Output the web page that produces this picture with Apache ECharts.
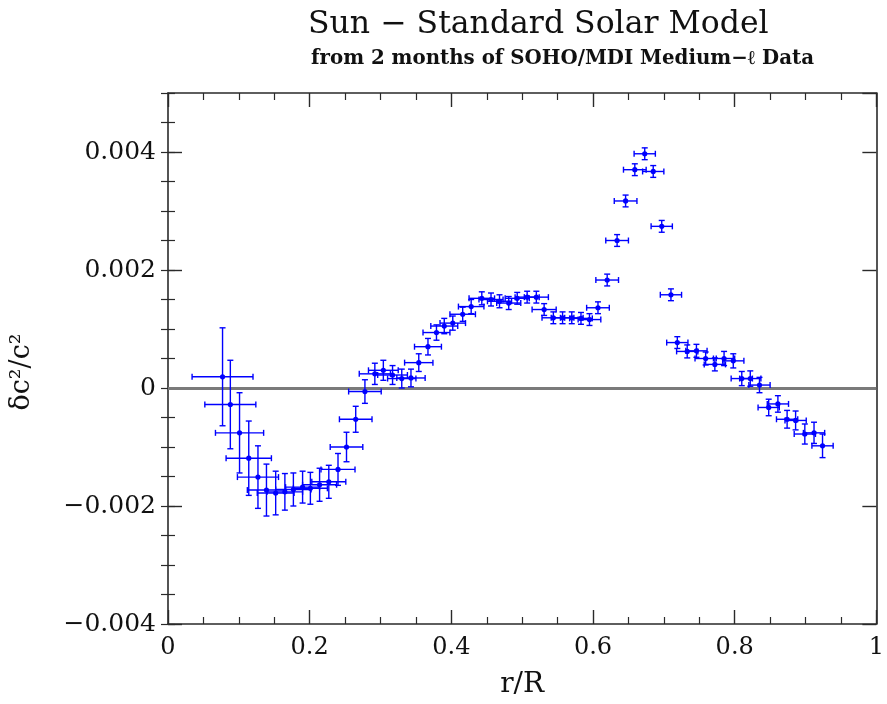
<!DOCTYPE html>
<html>
<head>
<meta charset="utf-8">
<script src="https://cdn.jsdelivr.net/npm/echarts@6/dist/echarts.min.js"></script>
<style>
  html, body { margin: 0; padding: 0; background: #fff; }
  #chart { width: 887px; height: 704px; }
</style>
</head>
<body>
<div id="chart"></div>
<script>
// r/R positions of the inversion points
const radius = [
  0.077, 0.088, 0.101, 0.114, 0.127, 0.139, 0.152, 0.165, 0.177, 0.190,
  0.201, 0.214, 0.227, 0.240, 0.252, 0.265, 0.278, 0.292, 0.304, 0.317,
  0.330, 0.343, 0.354, 0.367, 0.379, 0.390, 0.402, 0.416, 0.428, 0.443,
  0.456, 0.468, 0.481, 0.493, 0.507, 0.520, 0.531, 0.544, 0.557, 0.570,
  0.583, 0.595, 0.607, 0.620, 0.634, 0.646, 0.659, 0.673, 0.685, 0.697,
  0.710, 0.719, 0.733, 0.746, 0.759, 0.772, 0.785, 0.798, 0.810, 0.822,
  0.835, 0.848, 0.861, 0.874, 0.886, 0.899, 0.912, 0.924
];
// delta c^2 / c^2
const dc2 = [
  0.00019, -0.00028, -0.00076, -0.00119, -0.00151, -0.00173, -0.00178, -0.00176, -0.00172, -0.00168,
  -0.00170, -0.00164, -0.00159, -0.00138, -0.00100, -0.00053, -0.00006, 0.00024, 0.00030, 0.00022,
  0.00016, 0.00017, 0.00043, 0.00070, 0.00094, 0.00105, 0.00110, 0.00125, 0.00138, 0.00152,
  0.00150, 0.00147, 0.00144, 0.00152, 0.00154, 0.00154, 0.00133, 0.00119, 0.00119, 0.00119,
  0.00118, 0.00116, 0.00136, 0.00183, 0.00250, 0.00317, 0.00370, 0.00397, 0.00367, 0.00274,
  0.00158, 0.00077, 0.00062, 0.00063, 0.00050, 0.00040, 0.00050, 0.00046, 0.00016, 0.00016,
  0.00005, -0.00033, -0.00027, -0.00053, -0.00055, -0.00078, -0.00076, -0.00098
];
// horizontal error (resolution width)
const xErr = [
  0.043, 0.036, 0.034, 0.032, 0.029, 0.027, 0.026, 0.025, 0.025, 0.024,
  0.024, 0.024, 0.024, 0.024, 0.023, 0.023, 0.023, 0.022, 0.021, 0.021,
  0.020, 0.020, 0.020, 0.019, 0.019, 0.019, 0.018, 0.018, 0.018, 0.018,
  0.017, 0.017, 0.017, 0.017, 0.017, 0.017, 0.017, 0.016, 0.016, 0.016,
  0.016, 0.016, 0.016, 0.016, 0.016, 0.016, 0.016, 0.015, 0.015, 0.015,
  0.015, 0.015, 0.015, 0.015, 0.015, 0.015, 0.015, 0.015, 0.015, 0.015,
  0.015, 0.015, 0.015, 0.015, 0.015, 0.015, 0.015, 0.015
];
// vertical error
const yErr = [
  0.00083, 0.00075, 0.00068, 0.00063, 0.00053, 0.00044, 0.00037, 0.00031, 0.00028, 0.00027,
  0.00027, 0.00028, 0.00028, 0.00027, 0.00025, 0.00022, 0.00020, 0.00018, 0.00017, 0.00016,
  0.00016, 0.00015, 0.00015, 0.00014, 0.00013, 0.00013, 0.00012, 0.00012, 0.00012, 0.00011,
  0.00011, 0.00011, 0.00011, 0.00010, 0.00010, 0.00010, 0.00010, 0.00010, 0.00010, 0.00010,
  0.00010, 0.00010, 0.00010, 0.00010, 0.00010, 0.00010, 0.00010, 0.00010, 0.00010, 0.00010,
  0.00010, 0.00010, 0.00011, 0.00011, 0.00011, 0.00011, 0.00012, 0.00012, 0.00012, 0.00013,
  0.00013, 0.00014, 0.00014, 0.00015, 0.00016, 0.00017, 0.00018, 0.00020
];

const FONT = 'DejaVu Serif';
const AXIS_COLOR = '#2a2a2a';
const PT_COLOR = '#0000ff';

const points = radius.map((r, i) => [r, dc2[i], xErr[i], yErr[i]]);

function fmtY(v) {
  const n = Math.round(v * 1000) / 1000;
  if (n === 0) return '0';
  return (n < 0 ? '\u2212' : '') + Math.abs(n).toFixed(3);
}

function renderErrorBar(params, api) {
  const x = api.value(0), y = api.value(1), xe = api.value(2), ye = api.value(3);
  const c = api.coord([x, y]);
  const l = api.coord([x - xe, y]);
  const r = api.coord([x + xe, y]);
  const t = api.coord([x, y + ye]);
  const b = api.coord([x, y - ye]);
  const cap = 3;
  const st = { stroke: PT_COLOR, lineWidth: 1.4 };
  const line = (x1, y1, x2, y2) => ({ type: 'line', shape: { x1, y1, x2, y2 }, style: st });
  return {
    type: 'group',
    children: [
      line(l[0], c[1], r[0], c[1]),
      line(l[0], c[1] - cap, l[0], c[1] + cap),
      line(r[0], c[1] - cap, r[0], c[1] + cap),
      line(c[0], t[1], c[0], b[1]),
      line(c[0] - cap, t[1], c[0] + cap, t[1]),
      line(c[0] - cap, b[1], c[0] + cap, b[1]),
      { type: 'circle', shape: { cx: c[0], cy: c[1], r: 2.6 }, style: { fill: PT_COLOR } }
    ]
  };
}

const xBase = {
  type: 'value', min: 0, max: 1, interval: 0.2,
  axisLine: { show: true, onZero: false, lineStyle: { color: AXIS_COLOR, width: 1.6 } },
  axisTick: { show: true, inside: true, length: 14, lineStyle: { color: AXIS_COLOR, width: 1.4 } },
  minorTick: { show: true, splitNumber: 4, length: 7, lineStyle: { color: AXIS_COLOR, width: 1.2 } },
  splitLine: { show: false },
  minorSplitLine: { show: false }
};

function yMajor(pos, labels) {
  return {
    type: 'value', position: pos, min: -0.004, max: 0.005, interval: 0.002,
    axisLine: { show: true, onZero: false, lineStyle: { color: AXIS_COLOR, width: 1.6 } },
    axisTick: { show: true, inside: true, length: 14, lineStyle: { color: AXIS_COLOR, width: 1.4 } },
    axisLabel: labels ? {
      show: true, showMaxLabel: false, formatter: fmtY, margin: 12,
      fontFamily: FONT, fontSize: 25, color: '#111'
    } : { show: false },
    splitLine: { show: false }
  };
}

function yMinor(pos) {
  return {
    type: 'value', position: pos, min: -0.004, max: 0.005, interval: 0.0005,
    axisLine: { show: false },
    axisTick: { show: true, inside: true, length: 7, lineStyle: { color: AXIS_COLOR, width: 1.2 } },
    axisLabel: { show: false },
    splitLine: { show: false }
  };
}

const chart = echarts.init(document.getElementById('chart'), null, { renderer: 'canvas' });

chart.setOption({
  backgroundColor: '#fff',
  animation: false,
  graphic: [
    {
      type: 'text', left: 308, top: 9,
      style: { text: 'Sun \u2212 Standard Solar Model', font: '31.5px "DejaVu Serif"', fill: '#111' }
    },
    {
      type: 'text', left: 311, top: 49,
      style: { text: 'from 2 months of SOHO/MDI Medium\u2212\u2113 Data', font: 'bold 19.8px "DejaVu Serif"', fill: '#111' }
    },
    {
      // y-axis title, drawn rotated beside the tick labels
      type: 'text', x: 22, y: 372, rotation: Math.PI / 2,
      style: { text: '\u03b4c\u00b2/c\u00b2', font: '27px "DejaVu Serif"', fill: '#111',
        textAlign: 'center', textVerticalAlign: 'middle' }
    }
  ],
  grid: { left: 168, top: 93, width: 714, height: 540, containLabel: false },
  xAxis: [
    Object.assign({}, xBase, {
      position: 'bottom',
      name: 'r/R', nameLocation: 'middle', nameGap: 47,
      nameTextStyle: { fontFamily: FONT, fontSize: 28, color: '#111' },
      axisLabel: { show: true, margin: 12, fontFamily: FONT, fontSize: 24, color: '#111',
        formatter: v => String(Math.round(v * 10) / 10) }
    }),
    Object.assign({}, xBase, { position: 'top', axisLabel: { show: false } })
  ],
  yAxis: [
    yMajor('left', true),
    yMinor('left'),
    yMajor('right', false),
    yMinor('right')
  ],
  series: [
    {
      type: 'custom',
      xAxisIndex: 0,
      yAxisIndex: 0,
      renderItem: renderErrorBar,
      encode: { x: 0, y: 1 },
      data: points,
      z: 3,
      markLine: {
        silent: true,
        symbol: 'none',
        label: { show: false },
        lineStyle: { color: '#7a7a7a', width: 3, type: 'solid' },
        data: [{ yAxis: 0 }],
        z: 2
      }
    }
  ]
});
</script>
</body>
</html>
